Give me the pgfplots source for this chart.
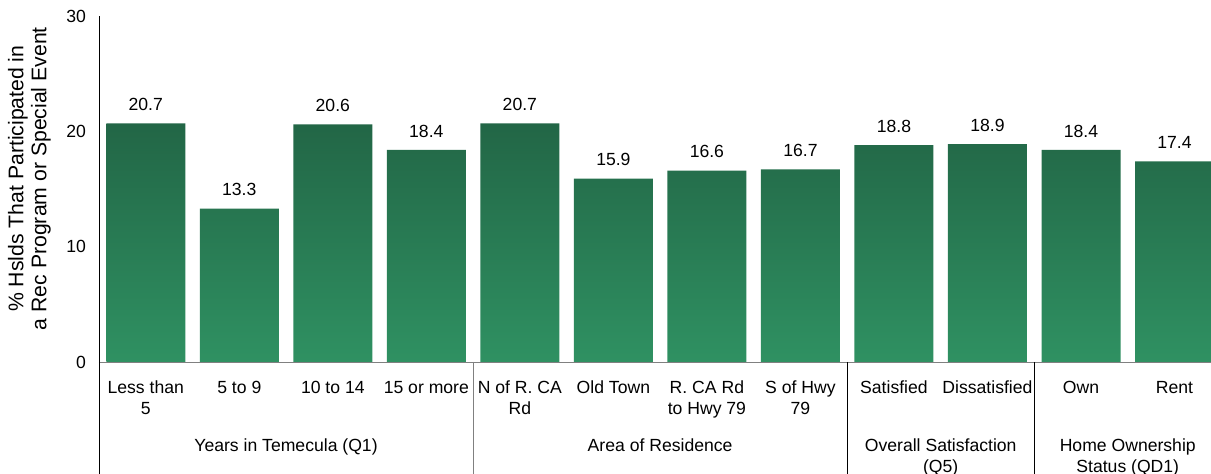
\documentclass[border=0pt]{standalone}
\usepackage{pgfplots}
\pgfplotsset{compat=1.18}
\usepackage{fontspec}
\setmainfont{Liberation Sans}
\definecolor{bartop}{RGB}{34,102,70}
\definecolor{barbot}{RGB}{47,145,98}
\newcommand{\lbl}{\fontsize{8.8}{10.5}\selectfont}

\begin{document}
\begin{tikzpicture}
\begin{axis}[
    scale only axis,
    width=556pt, height=173pt,
    xmin=-0.5, xmax=11.39,
    ymin=0, ymax=30,
    enlargelimits=false,
    ybar, bar width=39.5pt,
    axis x line*=bottom, axis y line*=left,
    x axis line style={-, draw=gray},
    y axis line style={-, draw=black},
    major tick length=0pt,
    xtick={0,...,11},
    xticklabels={{Less than\\5},{5 to 9},{10 to 14},{15 or more},{N of R. CA\\Rd},{Old Town},{R. CA Rd\\to Hwy 79},{S of Hwy\\79},{Satisfied},{Dissatisfied},{Own},{Rent}},
    xticklabel style={align=center, font=\lbl, yshift=-6pt},
    ytick={0,10,20,30},
    yticklabel style={font=\lbl, xshift=-3pt},
    /pgf/number format/assume math mode=true,
    nodes near coords={\pgfmathprintnumber[fixed,fixed zerofill,precision=1]{\pgfplotspointmeta}},
    nodes near coords style={font=\lbl, black, yshift=2.7pt},
    clip mode=individual,
    ylabel={\% Hslds That Participated in\\a Rec Program or Special Event},
    ylabel style={align=center, font=\fontsize{10.6}{11.5}\selectfont, at={(axis description cs:-0.037,0.53)}, anchor=south},
]
\addplot[draw=none, top color=bartop, bottom color=barbot] coordinates {
    (0,20.7) (1,13.3) (2,20.6) (3,18.4)
    (4,20.7) (5,15.9) (6,16.6) (7,16.7)
    (8,18.8) (9,18.9) (10,18.4) (11,17.4)
};
% group separators
\draw[black] (axis cs:-0.5,0) -- ([yshift=-56pt]axis cs:-0.5,0);
\draw[gray] (axis cs:3.5,0) -- ([yshift=-56pt]axis cs:3.5,0);
\draw[black] (axis cs:7.5,0) -- ([yshift=-56pt]axis cs:7.5,0);
\draw[black] (axis cs:9.5,0) -- ([yshift=-56pt]axis cs:9.5,0);
% group labels
\node[font=\lbl, align=center, anchor=north] at ([yshift=-35pt]axis cs:1.5,0) {Years in Temecula (Q1)};
\node[font=\lbl, align=center, anchor=north] at ([yshift=-35pt]axis cs:5.5,0) {Area of Residence};
\node[font=\lbl, align=center, anchor=north] at ([yshift=-35pt]axis cs:8.5,0) {Overall Satisfaction\\(Q5)};
\node[font=\lbl, align=center, anchor=north] at ([yshift=-35pt]axis cs:10.5,0) {Home Ownership\\Status (QD1)};
\end{axis}
\pgfresetboundingbox
\path (-49.5pt,-56pt) rectangle (556pt,181pt);
\end{tikzpicture}
\end{document}
